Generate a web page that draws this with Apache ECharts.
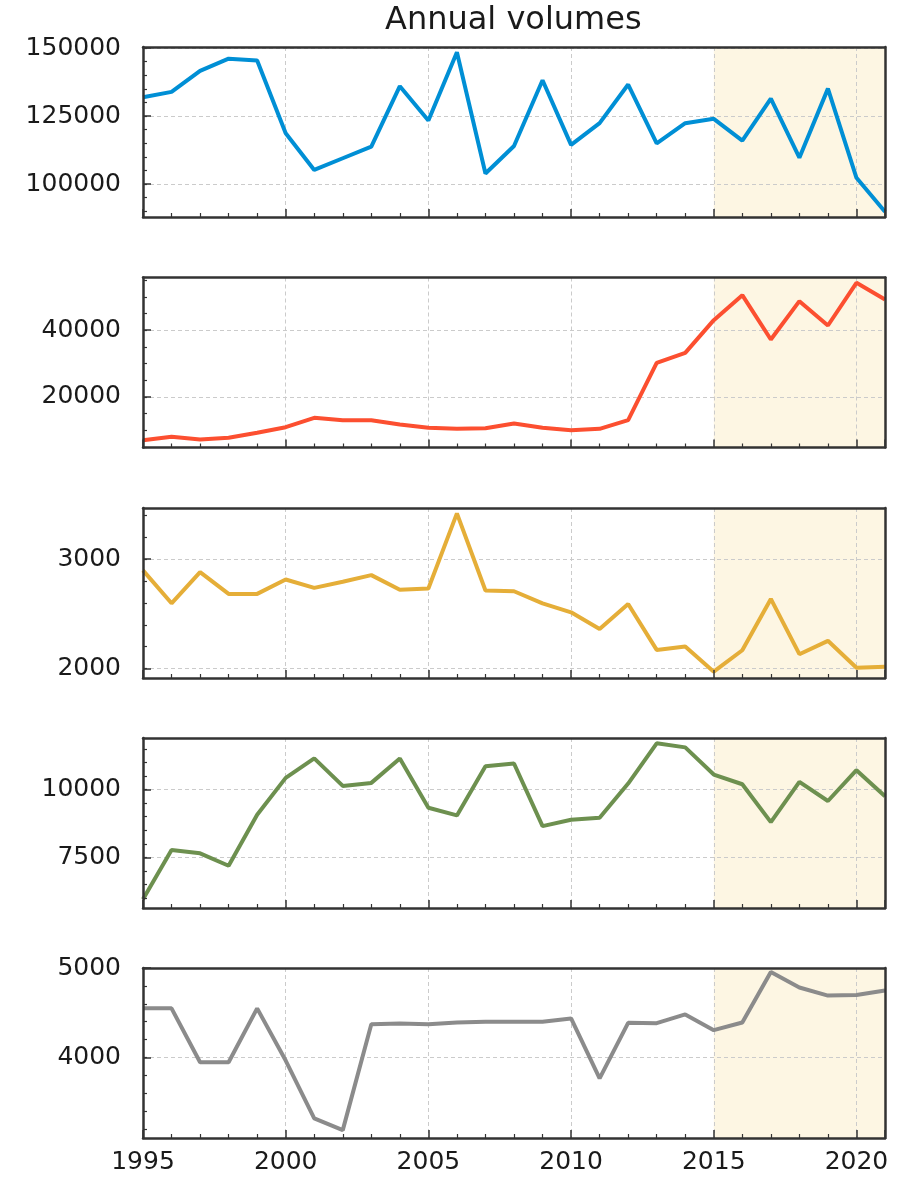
<!DOCTYPE html>
<html>
<head>
<meta charset="utf-8">
<script src="https://cdn.jsdelivr.net/npm/echarts@6/dist/echarts.min.js"></script>
<style>
html, body { margin: 0; padding: 0; background: #fff; }
#chart { width: 899px; height: 1178px; }
</style>
</head>
<body>
<div id="chart"></div>
<script>
// years on the shared x axis
const years = [1995, 1996, 1997, 1998, 1999, 2000, 2001, 2002, 2003, 2004, 2005, 2006, 2007,
  2008, 2009, 2010, 2011, 2012, 2013, 2014, 2015, 2016, 2017, 2018, 2019, 2020, 2021];

// one series per panel, top to bottom
const volBlue = [131900, 133900, 141600, 146100, 145400, 118700, 105200, 109500, 113800, 136000,
  123400, 148500, 103900, 114000, 138200, 114400, 122400, 136600, 115000, 122400, 124000, 116000,
  131400, 109700, 135100, 102300, 89800];
const volRed = [7000, 8000, 7200, 7700, 9200, 10900, 13700, 13000, 13000, 11700, 10700, 10400,
  10600, 12000, 10700, 10000, 10400, 13000, 30200, 33200, 43000, 50500, 37200, 48700, 41400,
  54200, 49200];
const volYellow = [2896, 2596, 2881, 2682, 2682, 2813, 2737, 2792, 2853, 2719, 2731, 3416, 2713,
  2706, 2596, 2514, 2361, 2590, 2171, 2202, 1973, 2168, 2636, 2132, 2254, 2009, 2018];
const volGreen = [5953, 7772, 7649, 7190, 9072, 10433, 11151, 10136, 10248, 11151, 9332, 9047,
  10866, 10965, 8651, 8886, 8960, 10223, 11708, 11559, 10557, 10198, 8800, 10285, 9579, 10718, 9752];
const volGrey = [4549, 4549, 3947, 3947, 4549, 3966, 3319, 3188, 4372, 4380, 4372, 4391, 4399,
  4399, 4399, 4436, 3767, 4387, 4383, 4481, 4305, 4391, 4955, 4782, 4692, 4699, 4748];

// tick labels
const xTickLabels = [1995, 2000, 2005, 2010, 2015, 2020];
const yTickBlue = [100000, 125000, 150000];
const yTickRed = [20000, 40000];
const yTickYellow = [2000, 3000];
const yTickGreen = [7500, 10000];
const yTickGrey = [4000, 5000];

// shaded period
const shadeFrom = 2015;
const shadeTo = 2021;

const panels = [
  { data: volBlue,   ticks: yTickBlue,   minor: 5000, min: 87900, max: 150400, color: '#008fd5' },
  { data: volRed,    ticks: yTickRed,    minor: 5000, min: 4800,  max: 55800,  color: '#fc4f30' },
  { data: volYellow, ticks: yTickYellow, minor: 200,  min: 1915,  max: 3465,   color: '#e5ae38' },
  { data: volGreen,  ticks: yTickGreen,  minor: 500,  min: 5630,  max: 11905,  color: '#6d904f' },
  { data: volGrey,   ticks: yTickGrey,   minor: 200,  min: 3100,  max: 5000,   color: '#8b8b8b' }
];

const gridTops = [47, 277.5, 508, 738, 968];
const FONT = 'DejaVu Sans';
const frameLine = { color: '#333', width: 2.5 };
const gridLine = { color: '#cbcbcb', width: 1, type: [4, 3] };
const plain = function (v) { return String(v); };

const grids = [], xAxes = [], yAxes = [], series = [];

panels.forEach(function (p, i) {
  grids.push({ left: 143, right: 14, top: gridTops[i], height: 170 });

  let minors = [];
  for (let v = Math.ceil(p.min / p.minor) * p.minor; v <= p.max; v += p.minor) minors.push(v);

  const xBase = { gridIndex: i, type: 'value', min: 1995, max: 2021, interval: 5 };
  // x: grid lines (under the data)
  xAxes.push(Object.assign({}, xBase, {
    z: 1,
    axisLine: { show: false }, axisTick: { show: false }, axisLabel: { show: false },
    splitLine: { show: true, lineStyle: gridLine }
  }));
  // x: frame, ticks, labels
  xAxes.push(Object.assign({}, xBase, {
    z: 10, position: 'bottom',
    axisLine: { onZero: false, lineStyle: frameLine },
    axisTick: { inside: true, length: 8, lineStyle: { color: '#333', width: 1.5 } },
    minorTick: { show: true, splitNumber: 5, length: 4, lineStyle: { color: '#333', width: 1.2 } },
    axisLabel: {
      show: i === 4, customValues: xTickLabels, margin: 12, formatter: plain,
      fontFamily: FONT, fontSize: 25, color: '#1a1a1a'
    },
    splitLine: { show: false }
  }));
  // x: top frame
  xAxes.push(Object.assign({}, xBase, {
    z: 10, position: 'top',
    axisLine: { onZero: false, lineStyle: frameLine },
    axisTick: { show: false }, axisLabel: { show: false }, splitLine: { show: false }
  }));

  const yBase = { gridIndex: i, type: 'value', min: p.min, max: p.max };
  // y: grid lines
  yAxes.push(Object.assign({}, yBase, {
    z: 1, position: 'left',
    axisLine: { show: false },
    axisTick: { show: false, customValues: p.ticks },
    axisLabel: { show: false, customValues: p.ticks },
    splitLine: { show: true, lineStyle: gridLine }
  }));
  // y: frame, major ticks, labels
  yAxes.push(Object.assign({}, yBase, {
    z: 10, position: 'left',
    axisLine: { onZero: false, lineStyle: frameLine },
    axisTick: { inside: true, length: 8, customValues: p.ticks, lineStyle: { color: '#333', width: 1.5 } },
    axisLabel: {
      customValues: p.ticks, margin: 22, formatter: plain,
      fontFamily: FONT, fontSize: 25, color: '#1a1a1a'
    },
    splitLine: { show: false }
  }));
  // y: minor ticks
  yAxes.push(Object.assign({}, yBase, {
    z: 10, position: 'left',
    axisLine: { show: false },
    axisTick: { inside: true, length: 4, customValues: minors, lineStyle: { color: '#333', width: 1.2 } },
    axisLabel: { show: false },
    splitLine: { show: false }
  }));
  // y: right frame
  yAxes.push(Object.assign({}, yBase, {
    z: 10, position: 'right',
    axisLine: { onZero: false, lineStyle: frameLine },
    axisTick: { show: false }, axisLabel: { show: false }, splitLine: { show: false }
  }));

  // shaded period
  series.push({
    type: 'line', xAxisIndex: 3 * i, yAxisIndex: 4 * i, data: [], z: 0,
    markArea: {
      silent: true, z: 0,
      itemStyle: { color: '#fdf6e3' },
      data: [[{ xAxis: shadeFrom }, { xAxis: shadeTo }]]
    }
  });
  series.push({
    type: 'line', xAxisIndex: 3 * i, yAxisIndex: 4 * i, z: 2,
    data: years.map(function (y, k) { return [y, p.data[k]]; }),
    showSymbol: false, symbol: 'none',
    lineStyle: { color: p.color, width: 4 },
    itemStyle: { color: p.color }
  });
});

const chart = echarts.init(document.getElementById('chart'));
chart.setOption({
  animation: false,
  backgroundColor: '#fff',
  title: {
    text: 'Annual volumes', left: 380, top: 0,
    textStyle: { fontFamily: FONT, fontSize: 32, fontWeight: 'normal', color: '#1a1a1a' }
  },
  grid: grids,
  xAxis: xAxes,
  yAxis: yAxes,
  series: series
});
</script>
</body>
</html>
